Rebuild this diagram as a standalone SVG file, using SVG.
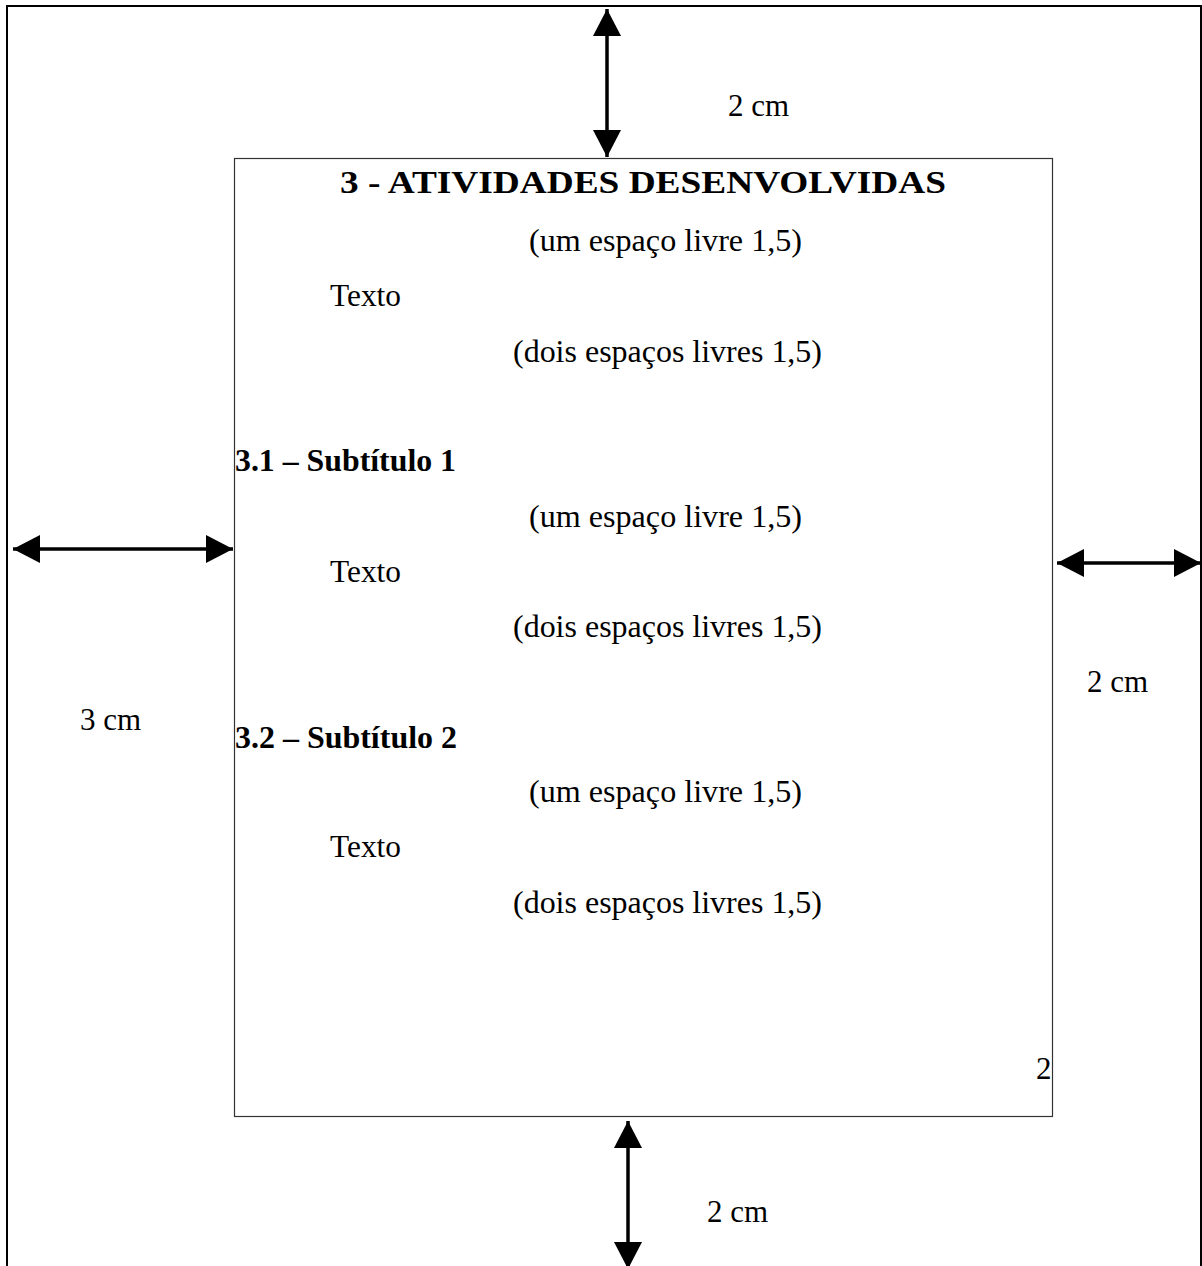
<svg xmlns="http://www.w3.org/2000/svg" width="1202" height="1266" viewBox="0 0 1202 1266">
<style>
.t{font-family:"Liberation Serif","Times New Roman",serif;font-size:31px;fill:#000}
.b{font-weight:bold}
.frame{fill:none;stroke:#000;stroke-width:2}
.page{fill:#fff;stroke:#333;stroke-width:1.2}
.arr{stroke:#000;stroke-width:3.5;fill:none;marker-start:url(#ah);marker-end:url(#ah)}
</style>
<defs>
<marker id="ah" viewBox="0 0 27 28" refX="27" refY="14" markerWidth="27" markerHeight="28" markerUnits="userSpaceOnUse" orient="auto-start-reverse">
<path d="M0,0 L27,14 L0,28 z" fill="#000"/>
</marker>
</defs>
<rect width="1202" height="1266" fill="#fff"/>
<g id="outer-page"><rect class="frame" x="7" y="6" width="1194" height="1300"/></g>
<g id="text-area">
<rect class="page" x="234.5" y="158.5" width="818" height="958"/>
<text class="t b" x="340" y="193" font-size="38" textLength="606" lengthAdjust="spacingAndGlyphs">3 - ATIVIDADES DESENVOLVIDAS</text>
<text class="t" x="529" y="251" textLength="273" lengthAdjust="spacingAndGlyphs">(um espaço livre 1,5)</text>
<text class="t" x="330" y="306" textLength="71" lengthAdjust="spacingAndGlyphs">Texto</text>
<text class="t" x="513" y="362" textLength="309" lengthAdjust="spacingAndGlyphs">(dois espaços livres 1,5)</text>
<text class="t b" x="235" y="471" textLength="221" lengthAdjust="spacingAndGlyphs">3.1 – Subtítulo 1</text>
<text class="t" x="529" y="527" textLength="273" lengthAdjust="spacingAndGlyphs">(um espaço livre 1,5)</text>
<text class="t" x="330" y="582" textLength="71" lengthAdjust="spacingAndGlyphs">Texto</text>
<text class="t" x="513" y="637" textLength="309" lengthAdjust="spacingAndGlyphs">(dois espaços livres 1,5)</text>
<text class="t b" x="235" y="748" textLength="222" lengthAdjust="spacingAndGlyphs">3.2 – Subtítulo 2</text>
<text class="t" x="529" y="802" textLength="273" lengthAdjust="spacingAndGlyphs">(um espaço livre 1,5)</text>
<text class="t" x="330" y="857" textLength="71" lengthAdjust="spacingAndGlyphs">Texto</text>
<text class="t" x="513" y="913" textLength="309" lengthAdjust="spacingAndGlyphs">(dois espaços livres 1,5)</text>
<text class="t" x="1036" y="1079">2</text>
</g>
<g id="connectors">
<line class="arr" x1="607" y1="9" x2="607" y2="157"/>
<line class="arr" x1="13" y1="549" x2="233" y2="549"/>
<line class="arr" x1="1057" y1="563" x2="1201" y2="563"/>
<line class="arr" x1="628" y1="1121" x2="628" y2="1269"/>
</g>
<g id="labels">
<text class="t" x="728" y="116">2 cm</text>
<text class="t" x="80" y="730">3 cm</text>
<text class="t" x="1087" y="692">2 cm</text>
<text class="t" x="707" y="1222">2 cm</text>
</g>
</svg>
